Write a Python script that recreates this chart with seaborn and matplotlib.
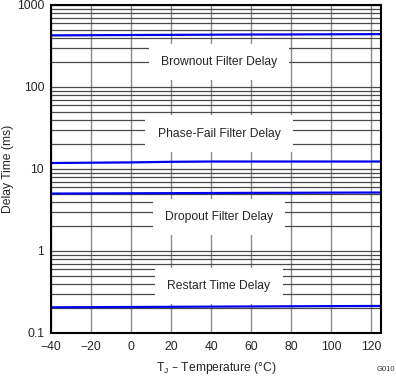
import pandas as pd
import matplotlib.pyplot as plt
import seaborn as sns
from matplotlib.ticker import FixedLocator, LogLocator, NullFormatter

# valori
temps = [-40, -20, 0, 20, 40, 60, 80, 100, 125]
brownout = [425, 427, 429, 431, 433, 435, 436, 438, 440]
phase_fail = [11.8, 11.9, 12.0, 12.2, 12.3, 12.3, 12.3, 12.3, 12.3]
dropout = [5.00, 5.02, 5.04, 5.06, 5.08, 5.10, 5.11, 5.13, 5.15]
restart = [0.205, 0.206, 0.207, 0.208, 0.209, 0.210, 0.211, 0.212, 0.213]

labels = ["Brownout Filter Delay", "Phase-Fail Filter Delay", "Dropout Filter Delay", "Restart Time Delay"]
label_y = [200, 27, 2.6, 0.37]
label_x = 44

df = pd.DataFrame({"T": temps * 4,
                   "delay": brownout + phase_fail + dropout + restart,
                   "serie": sum([[l] * len(temps) for l in labels], [])})

sns.set_style("white")
plt.rcParams['font.family'] = ['Liberation Sans', 'DejaVu Sans']
fs = 8.7

fig, ax = plt.subplots(figsize=(3.96, 3.77), dpi=100)
sns.lineplot(data=df, x="T", y="delay", units="serie", estimator=None,
             color="#0000ee", linewidth=1.6, ax=ax, legend=False, zorder=3)

ax.set_yscale("log")
ax.set_xlim(-40, 125)
ax.set_ylim(0.1, 1000)
ax.xaxis.set_major_locator(FixedLocator(range(-40, 121, 20)))
ax.set_xticklabels([f"{t}".replace("-", "\u2212") for t in range(-40, 121, 20)])
ax.yaxis.set_major_locator(FixedLocator([0.1, 1, 10, 100, 1000]))
ax.set_yticklabels(["0.1", "1", "10", "100", "1000"])
ax.yaxis.set_minor_locator(LogLocator(base=10, subs=range(2, 10)))
ax.yaxis.set_minor_formatter(NullFormatter())

ax.grid(True, axis="x", which="major", color="#8a8a8a", linewidth=1.0)
ax.grid(True, axis="y", which="both", color="#4a4a4a", linewidth=0.9)
ax.tick_params(which="both", length=0, labelsize=fs)
ax.tick_params(axis="x", pad=6)
ax.tick_params(axis="y", pad=5)

for sp in ax.spines.values():
    sp.set_color("black")
    sp.set_linewidth(1.5)
    sp.set_zorder(5)

for txt, y in zip(labels, label_y):
    ax.text(label_x, y, txt, ha="center", va="center", fontsize=fs, zorder=4,
            bbox=dict(boxstyle="square,pad=1.0", facecolor="white", edgecolor="none"))

ax.set_xlabel("T$_\\mathregular{J}$ \u2013 Temperature (°C)", fontsize=fs, labelpad=5)
ax.set_ylabel("Delay Time (ms)", fontsize=fs, labelpad=2)
fig.text(0.998, 0.01, "G010", ha="right", va="bottom", fontsize=5.5, color="#333333")

fig.subplots_adjust(left=0.129, right=0.962, top=0.987, bottom=0.117)
fig.savefig("out.png", dpi=100)
